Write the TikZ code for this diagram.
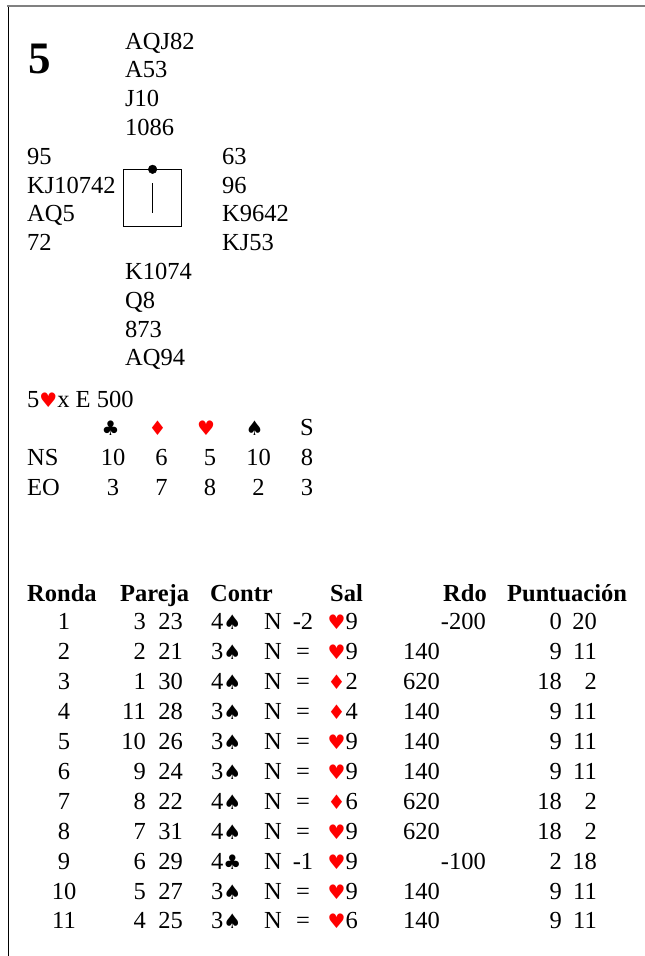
\documentclass[tikz,border=0pt]{standalone}
\usepackage{fontspec}
\setmainfont{Liberation Serif}
\newfontfamily\suitfont{DejaVu Sans}
\definecolor{suitred}{RGB}{255,0,0}
\newcommand{\sS}{{\suitfont\fontsize{20}{20}\selectfont ♠}}
\newcommand{\sH}{{\suitfont\fontsize{20}{20}\selectfont\color{suitred}♥}}
\newcommand{\sD}{{\suitfont\fontsize{20}{20}\selectfont\color{suitred}♦}}
\newcommand{\sC}{{\suitfont\fontsize{20}{20}\selectfont ♣}}

\begin{document}
\begin{tikzpicture}[x=1pt,y=-1pt,
  txt/.style={anchor=base west,inner sep=0pt,font=\fontsize{24.5}{29}\selectfont},
  rtxt/.style={txt,anchor=base east},
  ctxt/.style={txt,anchor=base},
  head/.style={txt,font=\fontsize{24.5}{29}\selectfont\bfseries}]
\useasboundingbox (0,0) rectangle (645,956);
% frame
\draw[line width=1pt] (8,6) -- (8,956);
\draw[gray, line width=2pt] (7,6) -- (645,6);
% board number
\node[txt,font=\fontsize{45}{50}\selectfont\bfseries] (board) at (28,73) {5};
% hands
\foreach \c [count=\i from 0] in {AQJ82,A53,J10,1086}
  \node[txt] (north\i) at (125,49+28.8*\i) {\c};
\foreach \c [count=\i from 0] in {95,KJ10742,AQ5,72}
  \node[txt] (west\i) at (27,164.2+28.8*\i) {\c};
\foreach \c [count=\i from 0] in {63,96,K9642,KJ53}
  \node[txt] (east\i) at (222,164.2+28.8*\i) {\c};
\foreach \c [count=\i from 0] in {K1074,Q8,873,AQ94}
  \node[txt] (south\i) at (125,279.4+28.8*\i) {\c};
% table symbol
\draw[line width=1.2pt] (123.5,169.3) rectangle (181.7,226.7);
\filldraw[black] (152.6,169.3) circle (4.3);
\draw[line width=1pt] (152.6,183.3) -- (152.6,212.7);
% par contract and tricks
\node[txt] (par) at (27,407) {5\sH x E 500};
\node[ctxt] (club) at (110.5,435) {\sC};
\node[ctxt] (diam) at (157.5,435) {\sD};
\node[ctxt] (heart) at (206,435) {\sH};
\node[ctxt] (spade) at (254.5,435) {\sS};
\node[ctxt] (nt) at (307,435) {S};
\node[txt] (ns) at (27,465) {NS};
\node[txt] (eo) at (27,495) {EO};
\foreach \a/\b [count=\i from 0] in {10/3,6/7,5/8,10/2,8/3} {
  \node[ctxt] (ns\i) at (113+48.5*\i,465) {\a};
  \node[ctxt] (eo\i) at (113+48.5*\i,495) {\b};
}
% results
\node[head] (hronda) at (27,601) {Ronda};
\node[head] (hpareja) at (120,601) {Pareja};
\node[head] (hcontr) at (210,601) {Contr};
\node[head] (hsal) at (330,601) {Sal};
\node[head,anchor=base east] (hrdo) at (487,601) {Rdo};
\node[head] (hpunt) at (507,601) {Puntuación};
\foreach \rd/\pa/\pb/\ct/\rs/\ld/\ns/\ew/\ua/\ub [count=\i] in {
  1/3/23/4\sS/-2/\sH9//-200/0/20,
  2/2/21/3\sS/=/\sH9/140//9/11,
  3/1/30/4\sS/=/\sD2/620//18/2,
  4/11/28/3\sS/=/\sD4/140//9/11,
  5/10/26/3\sS/=/\sH9/140//9/11,
  6/9/24/3\sS/=/\sH9/140//9/11,
  7/8/22/4\sS/=/\sD6/620//18/2,
  8/7/31/4\sS/=/\sH9/620//18/2,
  9/6/29/4\sC/-1/\sH9//-100/2/18,
  10/5/27/3\sS/=/\sH9/140//9/11,
  11/4/25/3\sS/=/\sH6/140//9/11} {
  \node[ctxt] (ronda\i) at (64,600+29.9*\i) {\rd};
  \node[rtxt] (pa\i) at (146,600+29.9*\i) {\pa};
  \node[rtxt] (pb\i) at (183,600+29.9*\i) {\pb};
  \node[txt] (contr\i) at (211,600+29.9*\i) {\ct};
  \node[txt] (decl\i) at (264,600+29.9*\i) {N};
  \node[ctxt] (res\i) at (303,600+29.9*\i) {\rs};
  \node[rtxt] (sal\i) at (358,600+29.9*\i) {\ld};
  \node[rtxt] (rns\i) at (440,600+29.9*\i) {\ns};
  \node[rtxt] (rew\i) at (486,600+29.9*\i) {\ew};
  \node[rtxt] (pns\i) at (562,600+29.9*\i) {\ua};
  \node[rtxt] (pew\i) at (597,600+29.9*\i) {\ub};
}
\end{tikzpicture}
\end{document}
